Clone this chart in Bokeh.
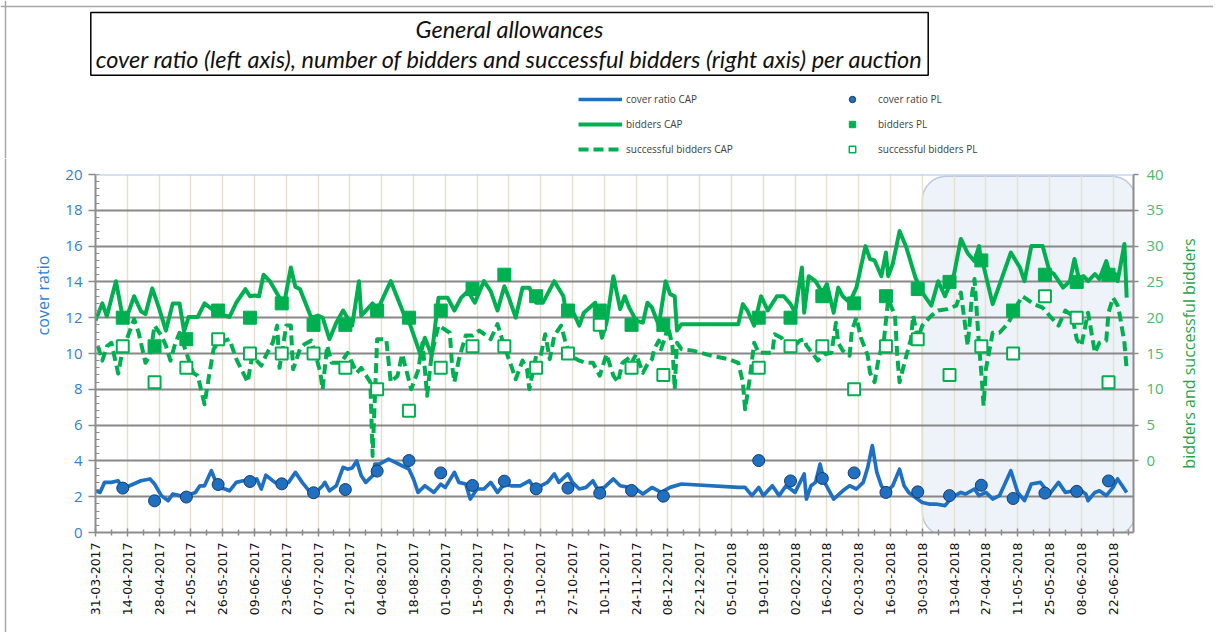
import math
import pandas as pd
from bokeh.plotting import figure
from bokeh.layouts import column, row
from bokeh.models import (Range1d, LinearAxis, FixedTicker, DatetimeTickFormatter,
                          Legend, LegendItem, Label, BoxAnnotation, Span)
from bokeh.embed import file_html
from bokeh.resources import INLINE

# ---------------- data ----------------
START = "2017-03-31"  # day 0 of the day-offset lists below

TICK_DATES = ["2017-03-31", "2017-04-14", "2017-04-28", "2017-05-12", "2017-05-26", "2017-06-09",
              "2017-06-23", "2017-07-07", "2017-07-21", "2017-08-04", "2017-08-18", "2017-09-01",
              "2017-09-15", "2017-09-29", "2017-10-13", "2017-10-27", "2017-11-10", "2017-11-24",
              "2017-12-08", "2017-12-22", "2018-01-05", "2018-01-19", "2018-02-02", "2018-02-16",
              "2018-03-02", "2018-03-16", "2018-03-30", "2018-04-13", "2018-04-27", "2018-05-11",
              "2018-05-25", "2018-06-08", "2018-06-22"]

# CAP cover ratio (left axis): auction day offsets and values
cap_cover_day = [0, 2, 4, 7, 10, 12, 15, 20, 24, 26,
                 29, 32, 34, 37, 40, 44, 46, 48, 51, 54,
                 57, 59, 62, 65, 68, 71, 73, 75, 79, 82,
                 85, 88, 91, 94, 97, 100, 101, 103, 106, 109,
                 111, 113, 115, 117, 119, 122, 123, 125, 129, 132,
                 135, 138, 140, 142, 145, 149, 152, 154, 158, 160,
                 163, 165, 168, 171, 174, 177, 180, 183, 187, 191,
                 193, 196, 199, 202, 204, 208, 210, 213, 216, 219,
                 221, 224, 228, 231, 235, 238, 241, 245, 249, 253,
                 258, 283, 286, 289, 292, 294, 298, 301, 304, 306,
                 308, 312, 313, 315, 317, 319, 321, 325, 329, 332,
                 335, 338, 340, 342, 344, 346, 348, 351, 354, 356,
                 358, 361, 364, 367, 370, 374, 377, 381, 383, 387,
                 389, 392, 395, 398, 400, 403, 406, 409, 412, 416,
                 420, 424, 427, 431, 434, 436, 437, 440, 442, 445,
                 448, 450, 453, 454]
cap_cover = [2.33, 2.24, 2.8, 2.8, 2.89, 2.43, 2.61, 2.89, 2.99, 2.71,
             2.06, 1.78, 2.15, 2.06, 2.06, 2.24, 2.61, 2.61, 3.45, 2.52,
             2.43, 2.33, 2.8, 2.89, 2.89, 2.99, 2.43, 3.2, 2.8, 2.71,
             2.8, 3.36, 2.8, 2.33, 2.24, 2.61, 2.8, 2.33, 2.61, 3.64,
             3.54, 3.6, 4.0, 3.17, 2.8, 3.17, 3.82, 3.82, 4.1, 3.92,
             3.73, 3.54, 2.99, 2.24, 2.61, 2.24, 2.7, 2.52, 3.36, 2.8,
             2.71, 1.87, 2.43, 2.43, 2.8, 2.24, 2.71, 2.61, 2.61, 2.89,
             2.52, 2.6, 2.8, 3.27, 2.8, 3.27, 2.8, 2.43, 2.52, 2.89,
             2.43, 2.52, 2.99, 2.61, 2.52, 2.43, 2.15, 2.52, 2.24, 2.52,
             2.71, 2.52, 2.52, 2.06, 2.52, 2.06, 2.61, 2.06, 2.61, 2.43,
             2.24, 3.27, 1.87, 2.61, 2.8, 3.82, 2.8, 1.87, 2.33, 2.61,
             2.43, 2.8, 3.64, 4.85, 3.36, 2.61, 2.24, 2.61, 3.54, 2.61,
             2.24, 1.96, 1.68, 1.59, 1.59, 1.5, 1.96, 2.24, 2.15, 2.43,
             2.06, 2.24, 1.87, 2.06, 2.61, 3.45, 2.24, 1.78, 2.71, 2.8,
             2.15, 2.8, 2.24, 2.33, 2.33, 2.15, 1.78, 2.24, 2.33, 2.06,
             2.52, 2.99, 2.43, 2.24]

# CAP number of bidders (right axis)
cap_bid_day = [0, 3, 5, 9, 12, 14, 17, 20, 22, 25,
               28, 31, 34, 37, 39, 41, 45, 48, 52, 55,
               59, 62, 66, 68, 70, 72, 74, 77, 81, 83,
               86, 88, 90, 95, 98, 100, 103, 106, 109, 113,
               116, 117, 122, 124, 130, 136, 138, 143, 145, 148,
               151, 155, 158, 161, 164, 167, 171, 174, 177, 180,
               182, 185, 188, 191, 194, 197, 202, 206, 207, 210,
               213, 215, 220, 223, 225, 228, 231, 233, 235, 238,
               241, 243, 245, 248, 251, 253, 255, 256, 258, 283,
               285, 287, 290, 293, 296, 300, 303, 306, 308, 311,
               312, 314, 317, 320, 322, 325, 327, 329, 332, 335,
               339, 341, 343, 346, 348, 349, 351, 354, 357, 361,
               364, 366, 368, 371, 374, 378, 381, 384, 387, 389,
               390, 391, 395, 403, 407, 409, 412, 417, 420, 422,
               426, 429, 431, 433, 435, 437, 440, 442, 445, 447,
               449, 450, 453, 454]
cap_bid = [19.6, 22.0, 20.2, 25.1, 20.0, 20.3, 23.0, 20.9, 20.5, 24.1,
           21.3, 18.2, 22.0, 22.0, 18.1, 20.1, 20.1, 22.0, 21.0, 20.5,
           20.1, 22.1, 24.0, 23.0, 23.1, 23.0, 26.0, 25.0, 22.8, 21.9,
           27.0, 24.3, 24.0, 20.0, 20.3, 20.0, 17.0, 19.3, 21.0, 18.9,
           25.1, 20.3, 22.0, 21.0, 25.1, 20.3, 19.5, 14.9, 17.2, 14.7,
           22.8, 22.8, 21.0, 22.8, 23.7, 22.1, 25.1, 23.7, 21.0, 24.4,
           22.8, 20.0, 24.2, 24.2, 22.1, 22.1, 25.1, 23.0, 21.0, 21.0,
           18.9, 20.7, 22.1, 17.2, 19.3, 25.8, 21.2, 23.0, 21.4, 19.6,
           19.3, 22.1, 21.4, 18.9, 25.1, 23.3, 23.0, 18.2, 19.1, 19.1,
           21.9, 21.0, 18.9, 23.0, 21.0, 23.0, 23.0, 21.9, 20.7, 27.0,
           20.7, 25.8, 25.1, 23.5, 24.7, 20.7, 24.2, 23.0, 22.1, 24.2,
           30.0, 28.2, 28.0, 25.8, 29.1, 25.8, 27.5, 32.1, 29.8, 25.6,
           23.5, 22.6, 21.7, 25.1, 23.0, 26.1, 31.0, 29.0, 27.9, 30.0,
           27.7, 27.2, 21.9, 29.1, 27.0, 25.1, 30.0, 30.0, 26.5, 26.1,
           24.2, 25.1, 28.2, 25.4, 25.8, 25.1, 26.1, 25.4, 27.9, 25.6,
           26.1, 25.1, 30.3, 22.8]

# CAP number of successful bidders (right axis)
cap_succ_day = [1, 3, 5, 7, 10, 12, 13, 17, 19, 22,
                24, 26, 29, 31, 33, 35, 37, 40, 43, 45,
                48, 50, 52, 54, 57, 59, 62, 65, 67, 69,
                73, 75, 78, 80, 81, 84, 86, 87, 90, 92,
                95, 97, 99, 100, 102, 104, 108, 111, 113, 115,
                117, 121, 122, 124, 128, 130, 133, 135, 139, 142,
                144, 146, 148, 151, 156, 157, 158, 160, 163, 166,
                169, 172, 174, 177, 179, 181, 183, 185, 188, 190,
                191, 194, 196, 198, 200, 202, 205, 207, 209, 213,
                216, 219, 222, 225, 228, 230, 232, 235, 236, 238,
                241, 243, 245, 246, 248, 249, 251, 252, 254, 255,
                256, 258, 263, 271, 279, 283, 285, 286, 288, 290,
                292, 298, 299, 302, 304, 306, 308, 310, 312, 313,
                316, 318, 321, 324, 326, 327, 329, 332, 333, 335,
                337, 340, 341, 343, 345, 347, 349, 352, 353, 354,
                357, 359, 360, 362, 364, 368, 371, 375, 379, 381,
                383, 384, 386, 387, 389, 390, 391, 392, 395, 398,
                402, 406, 408, 410, 413, 417, 420, 424, 427, 430,
                432, 434, 437, 439, 440, 442, 445, 446, 448, 450,
                451, 453, 454]
cap_succ = [16.1, 14.0, 16.0, 16.5, 12.2, 15.6, 16.3, 19.8, 17.9, 13.7,
            14.7, 18.9, 17.5, 16.1, 14.0, 16.3, 17.9, 15.1, 12.3, 11.9,
            7.9, 11.9, 15.6, 16.5, 16.8, 17.0, 14.2, 12.3, 11.0, 14.7,
            13.3, 14.7, 16.5, 18.9, 13.0, 18.9, 18.9, 12.8, 15.6, 16.3,
            16.8, 14.7, 12.3, 10.0, 16.1, 13.7, 13.7, 15.1, 13.7, 12.3,
            13.0, 11.0, 0.7, 17.0, 17.0, 11.0, 11.9, 14.9, 10.0, 12.6,
            16.5, 9.1, 14.9, 18.9, 17.9, 13.3, 11.0, 14.2, 17.5, 17.5,
            18.2, 17.5, 17.0, 19.1, 17.0, 15.1, 13.3, 11.4, 14.0, 12.8,
            10.0, 14.7, 14.7, 17.7, 14.2, 17.5, 18.9, 16.5, 14.7, 14.0,
            13.7, 13.7, 11.9, 14.9, 11.9, 11.0, 13.7, 14.4, 13.7, 14.9,
            12.3, 13.5, 14.2, 15.6, 16.8, 15.6, 17.5, 18.9, 16.1, 10.0,
            16.5, 15.6, 15.4, 14.7, 14.2, 13.7, 11.0, 7.2, 11.4, 16.5,
            15.1, 15.1, 17.7, 17.2, 16.3, 15.5, 16.1, 16.8, 17.0, 16.1,
            14.9, 14.0, 14.9, 15.1, 19.3, 16.5, 15.4, 14.7, 18.2, 20.0,
            17.2, 14.7, 12.3, 11.0, 14.7, 16.5, 22.6, 20.3, 14.7, 11.0,
            14.7, 17.0, 20.3, 17.0, 18.9, 20.3, 21.0, 21.2, 21.7, 23.5,
            18.6, 16.1, 23.5, 25.4, 16.1, 12.3, 7.7, 12.8, 17.9, 17.9,
            19.3, 21.9, 23.0, 22.6, 21.9, 21.4, 20.3, 18.9, 21.0, 20.3,
            17.0, 16.1, 20.7, 17.0, 15.1, 16.5, 16.8, 20.7, 22.8, 21.7,
            20.3, 16.5, 12.8]

# PL auctions
pl_dates = ["2017-04-12", "2017-04-26", "2017-05-10", "2017-05-24", "2017-06-07", "2017-06-21",
            "2017-07-05", "2017-07-19", "2017-08-02", "2017-08-16", "2017-08-30", "2017-09-13",
            "2017-09-27", "2017-10-11", "2017-10-25", "2017-11-08", "2017-11-22", "2017-12-06",
            "2018-01-17", "2018-01-31", "2018-02-14", "2018-02-28", "2018-03-14", "2018-03-28",
            "2018-04-11", "2018-04-25", "2018-05-09", "2018-05-23", "2018-06-06", "2018-06-20"]
pl_cover = [2.48, 1.77, 1.98, 2.68, 2.85, 2.72, 2.22, 2.40, 3.43, 4.02,
            3.33, 2.63, 2.87, 2.44, 2.48, 2.20, 2.35, 2.03, 4.02, 2.88,
            3.02, 3.33, 2.24, 2.27, 2.06, 2.64, 1.90, 2.20, 2.30, 2.88]
pl_bid = [20, 16, 17, 21, 20, 22, 19, 19, 21, 20,
          21, 24, 26, 23, 21, 21, 19, 19, 20, 20,
          23, 22, 23, 24, 25, 28, 21, 26, 25, 26]
pl_succ = [16, 11, 13, 17, 15, 15, 15, 13, 10, 7,
           13, 16, 16, 13, 15, 19, 13, 12, 13, 16,
           16, 10, 16, 17, 12, 16, 15, 23, 20, 11]

LEFT_TICKS = [0, 2, 4, 6, 8, 10, 12, 14, 16, 18, 20]
RIGHT_TICKS = [0, 5, 10, 15, 20, 25, 30, 35, 40]
HIGHLIGHT_FROM = "2018-03-30"
X_END = "2018-07-01"

TITLE = ("General allowances\n"
         "cover ratio (left axis), number of bidders and successful bidders (right axis) per auction")
LEFT_TITLE = "cover ratio"
RIGHT_TITLE = "bidders and successful bidders"

# ---------------- helpers ----------------
def ms(d):
    return pd.Timestamp(d).value / 1e6


def to_dates(days):
    return (pd.Timestamp(START) + pd.to_timedelta(days, unit="D")).to_numpy()


def no_align(fig):
    try:
        fig.frame_align = False
    except Exception:
        pass
    return fig


BLUE = "#1f70c1"
GREEN = "#00b050"
GRID = "#878787"
AXIS = "#8c8c8c"
EDGE = "#a6a6a6"

# layout geometry (pixels)
FRAME_L, FRAME_W = 95, 1038           # main plot frame left edge / width
HEAD_H = 158                          # header (title + legend) height
TOP_B, FRAME_H, BOT_B = 16, 358, 100  # main plot vertical borders / frame
LW, RW = 56, 42                       # side strips holding the axis titles
MAIN_RB = 38
TOTAL_W = FRAME_L + FRAME_W + MAIN_RB + RW
BODY_H = TOP_B + FRAME_H + BOT_B

LINE_BID = dict(line_color=GREEN, line_width=4, line_join="round")
LINE_SUCC = dict(line_color=GREEN, line_width=4, line_dash="10 5", line_join="round")
LINE_COV = dict(line_color=BLUE, line_width=3.7, line_join="round")
MK_COV = dict(marker="circle", size=12, fill_color=BLUE, line_color="#1b3a66", line_width=1)
MK_BID = dict(marker="square", size=13, fill_color=GREEN, line_color=GREEN)
MK_SUCC = dict(marker="square", size=12, fill_color="white", line_color=GREEN, line_width=2)


def blank(width, height, xr, yr):
    f = figure(width=width, height=height, x_range=xr, y_range=yr,
               x_axis_location=None, y_axis_location=None,
               min_border_left=0, min_border_right=0, min_border_top=0, min_border_bottom=0,
               outline_line_color=None, toolbar_location=None, output_backend="svg",
               background_fill_color="white", border_fill_color="white")
    f.grid.visible = False
    return no_align(f)


# ---------------- header: title box + legend (data coords = page pixels) ----------------
head = blank(TOTAL_W, HEAD_H, Range1d(0, TOTAL_W), Range1d(HEAD_H, 0))
head.add_layout(Span(location=6, dimension="width", line_color=EDGE, line_width=1.5))
head.add_layout(Span(location=5, dimension="height", line_color=EDGE, line_width=1.5))

try:
    title_pad = (5, 2)
    Label(text="x", padding=title_pad)
except Exception:
    title_pad = 3
head.add_layout(Label(x=509, y=12, text=TITLE,
                      text_align="center", text_baseline="top",
                      text_font="Lato", text_font_style="italic", text_font_size="23.5px",
                      text_color="#111111", text_line_height=1.1,
                      border_line_color="black", border_line_width=1.5,
                      background_fill_color="white", padding=title_pad))

OFF = dict(x=[-1000, -999], y=[-1000, -1000])  # invisible stand-ins that style the legend
h_cov = head.line(**OFF, **LINE_COV)
h_bid = head.line(**OFF, **LINE_BID)
h_succ = head.line(**OFF, **LINE_SUCC)
h_pl_cov = head.scatter(**OFF, **dict(MK_COV, size=8))
h_pl_bid = head.scatter(**OFF, **dict(MK_BID, size=8))
h_pl_succ = head.scatter(**OFF, **dict(MK_SUCC, size=8, line_width=1.5))


def make_legend(items, x, glyph_w, standoff):
    return Legend(items=items, location=(x, HEAD_H - 157), orientation="vertical",
                  glyph_width=glyph_w, glyph_height=16, label_height=16, spacing=9,
                  label_standoff=standoff, padding=0, margin=0,
                  border_line_color=None, background_fill_alpha=0,
                  label_text_font="Open Sans", label_text_font_size="10px",
                  label_text_color="#404040")


head.add_layout(make_legend([LegendItem(label="cover ratio CAP", renderers=[h_cov]),
                             LegendItem(label="bidders CAP", renderers=[h_bid]),
                             LegendItem(label="successful bidders CAP", renderers=[h_succ])],
                            578, 44, 4))
head.add_layout(make_legend([LegendItem(label="cover ratio PL", renderers=[h_pl_cov]),
                             LegendItem(label="bidders PL", renderers=[h_pl_bid]),
                             LegendItem(label="successful bidders PL", renderers=[h_pl_succ])],
                            842, 20, 16))

# ---------------- side strips with the axis titles ----------------
lf = blank(LW, BODY_H, Range1d(0, LW), Range1d(BODY_H, 0))
lf.add_layout(Span(location=5, dimension="height", line_color=EDGE, line_width=1.5))
lf.add_layout(Label(x=42, y=295 - HEAD_H, text=LEFT_TITLE, angle=math.pi / 2,
                    text_align="center", text_baseline="middle",
                    text_font="Open Sans", text_font_size="16px", text_color="#2f7fd8"))
rf = blank(RW, BODY_H, Range1d(0, RW), Range1d(BODY_H, 0))
rf.add_layout(Label(x=1188 - (TOTAL_W - RW), y=353 - HEAD_H, text=RIGHT_TITLE,
                    angle=math.pi / 2, text_align="center", text_baseline="middle",
                    text_font="Open Sans", text_font_size="16px", text_color="#1fa64a"))

# ---------------- main chart ----------------
p = figure(x_axis_type="datetime", frame_width=FRAME_W, frame_height=FRAME_H,
           min_border_left=FRAME_L - LW, min_border_right=MAIN_RB, min_border_top=TOP_B,
           min_border_bottom=BOT_B,
           x_range=Range1d(ms(START), ms(X_END)), y_range=Range1d(0, 20),
           output_backend="svg", toolbar_location=None,
           background_fill_color="white", border_fill_color="white",
           outline_line_color=None)
no_align(p)
p.extra_y_ranges = {"right": Range1d(-10, 40)}

box = BoxAnnotation(left=ms(HIGHLIGHT_FROM), right=ms("2018-07-02"), top=19.9, bottom=-0.2,
                    fill_color="#eef3fa", fill_alpha=1.0, line_color="#3b5e98",
                    line_width=1.5, border_radius=24, level="image")
p.add_layout(box)

# x axis
tick_ms = [ms(d) for d in TICK_DATES]
minor_ms = [t + 7 * 86400000 for t in tick_ms]
xa = p.xaxis[0]
xa.ticker = FixedTicker(ticks=tick_ms, minor_ticks=minor_ms)
fmt = "%d-%m-%Y"
xa.formatter = DatetimeTickFormatter(days=fmt, months=fmt, years=fmt, hours=fmt,
                                     hourmin=fmt, minutes=fmt, minsec=fmt, seconds=fmt,
                                     milliseconds=fmt, microseconds=fmt)
xa.major_label_orientation = math.pi / 2
xa.major_label_text_font = "DejaVu Sans"
xa.major_label_text_font_size = "12.5px"
xa.major_label_text_color = "#111111"
xa.major_label_standoff = 6
xa.axis_line_color = AXIS
xa.axis_line_width = 2
xa.major_tick_line_color = AXIS
xa.major_tick_line_width = 1.5
xa.major_tick_in = 4
xa.major_tick_out = 4
xa.minor_tick_line_color = AXIS
xa.minor_tick_line_width = 1.5
xa.minor_tick_in = 3
xa.minor_tick_out = 3

# left axis
ya = p.yaxis[0]
ya.ticker = FixedTicker(ticks=LEFT_TICKS, minor_ticks=[i * 0.4 for i in range(51)])
ya.major_label_text_color = "#2f7fd8"
ya.major_label_text_font = "Open Sans"
ya.major_label_text_font_size = "15px"
ya.major_label_standoff = 6
ya.axis_line_color = AXIS
ya.axis_line_width = 2
ya.major_tick_line_color = AXIS
ya.major_tick_line_width = 1.5
ya.major_tick_in = 0
ya.major_tick_out = 7
ya.minor_tick_line_color = AXIS
ya.minor_tick_in = 4
ya.minor_tick_out = 0

# right axis
ra = LinearAxis(y_range_name="right", ticker=FixedTicker(ticks=RIGHT_TICKS))
ra.major_label_text_color = "#4cb86e"
ra.major_label_text_font = "Open Sans"
ra.major_label_text_font_size = "15px"
ra.major_label_standoff = 8
ra.axis_line_color = AXIS
ra.axis_line_width = 2
ra.major_tick_line_color = AXIS
ra.major_tick_line_width = 1.5
ra.major_tick_in = 0
ra.major_tick_out = 5
ra.minor_tick_line_color = None
p.add_layout(ra, "right")

# grids
p.ygrid.grid_line_color = GRID
p.ygrid.grid_line_width = 2
p.xgrid.ticker = xa.ticker
p.xgrid.grid_line_color = "#e6e1cf"
p.xgrid.grid_line_width = 1.5
p.add_layout(Span(location=20, dimension="width", line_color="#a9c4ea", line_width=2))

# series
p.line(to_dates(cap_bid_day), cap_bid, y_range_name="right", **LINE_BID)
p.line(to_dates(cap_succ_day), cap_succ, y_range_name="right", **LINE_SUCC)
p.line(to_dates(cap_cover_day), cap_cover, **LINE_COV)

pl_x = pd.to_datetime(pl_dates).to_numpy()
p.scatter(pl_x, pl_cover, **MK_COV)
p.scatter(pl_x, pl_bid, y_range_name="right", **MK_BID)
p.scatter(pl_x, pl_succ, y_range_name="right", **MK_SUCC)

layout = column(head, row(lf, p, rf, spacing=0), spacing=0)
open("out.html", "w").write(file_html(layout, INLINE))
